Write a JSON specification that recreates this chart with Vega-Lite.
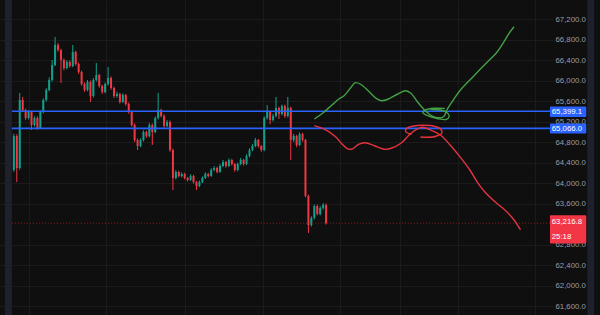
{
  "$schema": "https://vega.github.io/schema/vega-lite/v6.json",
  "width": 553,
  "height": 315,
  "autosize": {"type": "none"},
  "padding": {"left": 0, "top": 0, "right": 47, "bottom": 0},
  "background": "#0f0f0f",
  "config": {"view": {"stroke": null}, "font": "Liberation Sans"},
  "datasets": {
    "one": [{}],
    "candles": [
      {"i":0,"o":64254,"h":64960,"l":64220,"c":64918},
      {"i":1,"o":64918,"h":64950,"l":64020,"c":64293},
      {"i":2,"o":64293,"h":65757,"l":64260,"c":65620},
      {"i":3,"o":65620,"h":65680,"l":65400,"c":65425},
      {"i":4,"o":65425,"h":65450,"l":65230,"c":65269},
      {"i":5,"o":65269,"h":65420,"l":65240,"c":65386},
      {"i":6,"o":65386,"h":65410,"l":65035,"c":65132},
      {"i":7,"o":65132,"h":65300,"l":65100,"c":65269},
      {"i":8,"o":65269,"h":65300,"l":65040,"c":65074},
      {"i":9,"o":65074,"h":65420,"l":65050,"c":65386},
      {"i":10,"o":65386,"h":65650,"l":65360,"c":65620},
      {"i":11,"o":65620,"h":65850,"l":65590,"c":65815},
      {"i":12,"o":65815,"h":66060,"l":65790,"c":66010},
      {"i":13,"o":66010,"h":66400,"l":65980,"c":66303},
      {"i":14,"o":66303,"h":66849,"l":66280,"c":66693},
      {"i":15,"o":66693,"h":66730,"l":66560,"c":66596},
      {"i":16,"o":66596,"h":66620,"l":65952,"c":66400},
      {"i":17,"o":66400,"h":66430,"l":66200,"c":66244},
      {"i":18,"o":66244,"h":66400,"l":66220,"c":66361},
      {"i":19,"o":66361,"h":66390,"l":66250,"c":66283},
      {"i":20,"o":66283,"h":66693,"l":66260,"c":66556},
      {"i":21,"o":66556,"h":66580,"l":66290,"c":66322},
      {"i":22,"o":66322,"h":66350,"l":66130,"c":66166},
      {"i":23,"o":66166,"h":66190,"l":65900,"c":65932},
      {"i":24,"o":65932,"h":65960,"l":65780,"c":65815},
      {"i":25,"o":65815,"h":66010,"l":65790,"c":65971},
      {"i":26,"o":65971,"h":66000,"l":65581,"c":65698},
      {"i":27,"o":65698,"h":66050,"l":65670,"c":66010},
      {"i":28,"o":66010,"h":66342,"l":65980,"c":66108},
      {"i":29,"o":66108,"h":66130,"l":65860,"c":65893},
      {"i":30,"o":65893,"h":65920,"l":65740,"c":65776},
      {"i":31,"o":65776,"h":65960,"l":65750,"c":65932},
      {"i":32,"o":65932,"h":66264,"l":65900,"c":66049},
      {"i":33,"o":66049,"h":66080,"l":65820,"c":65854},
      {"i":34,"o":65854,"h":65880,"l":65660,"c":65698},
      {"i":35,"o":65698,"h":65780,"l":65670,"c":65737},
      {"i":36,"o":65737,"h":65760,"l":65550,"c":65581},
      {"i":37,"o":65581,"h":65750,"l":65560,"c":65717},
      {"i":38,"o":65717,"h":65740,"l":65510,"c":65542},
      {"i":39,"o":65542,"h":65570,"l":65350,"c":65386},
      {"i":40,"o":65386,"h":65410,"l":65100,"c":65132},
      {"i":41,"o":65132,"h":65160,"l":64800,"c":64840},
      {"i":42,"o":64840,"h":64870,"l":64645,"c":64722},
      {"i":43,"o":64722,"h":64870,"l":64700,"c":64840},
      {"i":44,"o":64840,"h":65030,"l":64810,"c":64996},
      {"i":45,"o":64996,"h":65020,"l":64880,"c":64918},
      {"i":46,"o":64918,"h":65170,"l":64890,"c":65132},
      {"i":47,"o":65132,"h":65160,"l":64742,"c":64996},
      {"i":48,"o":64996,"h":65300,"l":64970,"c":65269},
      {"i":49,"o":65269,"h":65757,"l":65240,"c":65425},
      {"i":50,"o":65425,"h":65450,"l":65280,"c":65308},
      {"i":51,"o":65308,"h":65340,"l":65080,"c":65113},
      {"i":52,"o":65113,"h":65230,"l":65090,"c":65191},
      {"i":53,"o":65191,"h":65220,"l":64610,"c":64645},
      {"i":54,"o":64645,"h":64670,"l":63864,"c":64098},
      {"i":55,"o":64098,"h":64250,"l":64070,"c":64215},
      {"i":56,"o":64215,"h":64240,"l":64110,"c":64137},
      {"i":57,"o":64137,"h":64210,"l":64110,"c":64176},
      {"i":58,"o":64176,"h":64200,"l":64070,"c":64098},
      {"i":59,"o":64098,"h":64120,"l":64030,"c":64059},
      {"i":60,"o":64059,"h":64170,"l":64040,"c":64137},
      {"i":61,"o":64137,"h":64160,"l":63990,"c":64020},
      {"i":62,"o":64020,"h":64040,"l":63864,"c":63942},
      {"i":63,"o":63942,"h":64050,"l":63920,"c":64020},
      {"i":64,"o":64020,"h":64130,"l":64000,"c":64098},
      {"i":65,"o":64098,"h":64210,"l":64080,"c":64176},
      {"i":66,"o":64176,"h":64200,"l":64110,"c":64137},
      {"i":67,"o":64137,"h":64290,"l":64120,"c":64254},
      {"i":68,"o":64254,"h":64330,"l":64230,"c":64293},
      {"i":69,"o":64293,"h":64320,"l":64190,"c":64215},
      {"i":70,"o":64215,"h":64370,"l":64200,"c":64332},
      {"i":71,"o":64332,"h":64450,"l":64310,"c":64410},
      {"i":72,"o":64410,"h":64430,"l":64300,"c":64332},
      {"i":73,"o":64332,"h":64480,"l":64310,"c":64449},
      {"i":74,"o":64449,"h":64470,"l":64340,"c":64371},
      {"i":75,"o":64371,"h":64390,"l":64220,"c":64254},
      {"i":76,"o":64254,"h":64400,"l":64230,"c":64371},
      {"i":77,"o":64371,"h":64490,"l":64350,"c":64449},
      {"i":78,"o":64449,"h":64470,"l":64340,"c":64371},
      {"i":79,"o":64371,"h":64560,"l":64350,"c":64527},
      {"i":80,"o":64527,"h":64680,"l":64500,"c":64645},
      {"i":81,"o":64645,"h":64760,"l":64620,"c":64722},
      {"i":82,"o":64722,"h":64880,"l":64700,"c":64840},
      {"i":83,"o":64840,"h":64860,"l":64690,"c":64722},
      {"i":84,"o":64722,"h":64740,"l":64610,"c":64645},
      {"i":85,"o":64645,"h":65300,"l":64620,"c":65269},
      {"i":86,"o":65269,"h":65522,"l":65240,"c":65386},
      {"i":87,"o":65386,"h":65410,"l":65150,"c":65230},
      {"i":88,"o":65230,"h":65350,"l":65200,"c":65308},
      {"i":89,"o":65308,"h":65679,"l":65280,"c":65464},
      {"i":90,"o":65464,"h":65490,"l":65250,"c":65347},
      {"i":91,"o":65347,"h":65530,"l":65320,"c":65503},
      {"i":92,"o":65503,"h":65530,"l":65270,"c":65308},
      {"i":93,"o":65308,"h":65679,"l":65280,"c":65464},
      {"i":94,"o":65464,"h":65490,"l":64450,"c":64840},
      {"i":95,"o":64840,"h":64960,"l":64800,"c":64918},
      {"i":96,"o":64918,"h":64940,"l":64700,"c":64742},
      {"i":97,"o":64742,"h":64990,"l":64720,"c":64957},
      {"i":98,"o":64957,"h":64980,"l":64810,"c":64840},
      {"i":99,"o":64840,"h":64860,"l":63720,"c":63747},
      {"i":100,"o":63747,"h":63770,"l":63025,"c":63181},
      {"i":101,"o":63181,"h":63350,"l":63150,"c":63318},
      {"i":102,"o":63318,"h":63580,"l":63290,"c":63552},
      {"i":103,"o":63552,"h":63580,"l":63370,"c":63396},
      {"i":104,"o":63396,"h":63550,"l":63370,"c":63513},
      {"i":105,"o":63513,"h":63610,"l":63480,"c":63571},
      {"i":106,"o":63571,"h":63600,"l":63190,"c":63216.8}
    ],
    "greenLine": [
      {"k":0,"t":102,"p":65249},{"k":1,"t":104.8,"p":65361},{"k":2,"t":108,"p":65522},
      {"k":3,"t":110.3,"p":65640},{"k":4,"t":112,"p":65698},{"k":5,"t":114.2,"p":65848},
      {"k":6,"t":115.9,"p":65958},{"k":7,"t":117.6,"p":65932},{"k":8,"t":120.3,"p":65801},
      {"k":9,"t":123,"p":65653},{"k":10,"t":124.8,"p":65606},{"k":11,"t":127,"p":65634},
      {"k":12,"t":130.3,"p":65737},{"k":13,"t":133.1,"p":65801},{"k":14,"t":134.8,"p":65751},
      {"k":15,"t":137,"p":65587},{"k":16,"t":139.2,"p":65438},{"k":17,"t":141.4,"p":65327},
      {"k":18,"t":143.7,"p":65275},{"k":19,"t":145.9,"p":65294},{"k":20,"t":147,"p":65425},
      {"k":21,"t":149.2,"p":65620},{"k":22,"t":151.4,"p":65801},{"k":23,"t":155.9,"p":66075},
      {"k":24,"t":160.3,"p":66336},{"k":25,"t":163.7,"p":66531},{"k":26,"t":166.4,"p":66757},
      {"k":27,"t":168.1,"p":66921},{"k":28,"t":169.8,"p":67050}
    ],
    "redLine": [
      {"k":0,"t":102,"p":65119},{"k":1,"t":105.9,"p":65035},{"k":2,"t":109.2,"p":64904},
      {"k":3,"t":111.4,"p":64762},{"k":4,"t":113.7,"p":64658},{"k":5,"t":115.3,"p":64678},
      {"k":6,"t":117,"p":64756},{"k":7,"t":119.2,"p":64787},{"k":8,"t":122.6,"p":64723},
      {"k":9,"t":125.9,"p":64658},{"k":10,"t":128.1,"p":64678},{"k":11,"t":131.4,"p":64775},
      {"k":12,"t":134.2,"p":64937},{"k":13,"t":136.4,"p":65035},{"k":14,"t":138.7,"p":65087},
      {"k":15,"t":141.4,"p":65035},{"k":16,"t":144.8,"p":64937},{"k":17,"t":148.1,"p":64742},
      {"k":18,"t":151.4,"p":64514},{"k":19,"t":154.8,"p":64254},{"k":20,"t":157.6,"p":63995},
      {"k":21,"t":160.3,"p":63800},{"k":22,"t":163.7,"p":63616},{"k":23,"t":167,"p":63460},
      {"k":24,"t":169.8,"p":63279},{"k":25,"t":172,"p":63084}
    ],
    "greenLoop": [
      {"k":0,"t":146.3,"p":65454},{"k":1,"t":142.7,"p":65458},{"k":2,"t":139.7,"p":65425},
      {"k":3,"t":138.8,"p":65376},{"k":4,"t":140.3,"p":65318},{"k":5,"t":143.7,"p":65259},
      {"k":6,"t":146.7,"p":65240},{"k":7,"t":147.8,"p":65298},{"k":8,"t":147,"p":65376},
      {"k":9,"t":144.7,"p":65425},{"k":10,"t":141.7,"p":65435}
    ],
    "redLoop": [
      {"k":0,"t":135,"p":64947},{"k":1,"t":133,"p":65005},{"k":2,"t":133.3,"p":65064},
      {"k":3,"t":135.7,"p":65113},{"k":4,"t":139,"p":65126},{"k":5,"t":142.7,"p":65107},
      {"k":6,"t":145,"p":65044},{"k":7,"t":145.3,"p":64976},{"k":8,"t":143.3,"p":64912},
      {"k":9,"t":140.3,"p":64892},{"k":10,"t":138,"p":64898}
    ]
  },
  "layer": [
    {
      "data": {"name": "candles"},
      "mark": {"type": "rule", "strokeWidth": 1},
      "encoding": {
        "x": {"field": "i", "type": "quantitative", "title": null,
              "scale": {"domain": [-3, 181.33], "nice": false, "zero": false},
              "axis": {"orient": "bottom", "values": [5, 31.3, 58, 84.7, 110.7, 131, 150.7, 177], "tickCount": 30,
                       "labels": false, "ticks": false, "domain": false, "grid": true,
                       "gridColor": "#1b1b1b", "title": null, "zindex": 0}},
        "y": {"field": "l", "type": "quantitative", "title": null,
              "scale": {"domain": [61425, 67571], "nice": false, "zero": false},
              "axis": {"orient": "right", "values": [61600,62000,62400,62800,63600,64000,64400,64800,65200,65600,66000,66400,66800,67200], "tickCount": 30,
                       "format": ",.1f", "labelColor": "#9a9ca3", "labelFontSize": 7.8,
                       "labelPadding": 2, "ticks": false, "domain": false, "grid": true, "labelOverlap": false,
                       "gridColor": "#1b1b1b", "title": null, "zindex": 0, "labelFont": "Liberation Sans"}},
        "y2": {"field": "h"},
        "color": {"condition": {"test": "datum.c >= datum.o", "value": "#13a08a"}, "value": "#f23645"}
      }
    },
    {
      "data": {"name": "candles"},
      "mark": {"type": "bar", "size": 2},
      "encoding": {
        "x": {"field": "i", "type": "quantitative", "title": null},
        "y": {"field": "o", "type": "quantitative", "title": null},
        "y2": {"field": "c"},
        "color": {"condition": {"test": "datum.c >= datum.o", "value": "#13a08a"}, "value": "#f23645"}
      }
    },
    {
      "data": {"name": "one"},
      "mark": {"type": "rect", "color": "#1e212b", "clip": false},
      "encoding": {
        "x": {"datum": -3, "type": "quantitative", "title": null},
        "x2": {"datum": -0.67},
        "y": {"datum": 61425, "type": "quantitative", "title": null},
        "y2": {"datum": 67571}
      }
    },
    {
      "data": {"name": "one"},
      "mark": {"type": "rect", "color": "#1e212b", "clip": false},
      "encoding": {
        "x": {"datum": 194.67, "type": "quantitative", "title": null},
        "x2": {"datum": 197},
        "y": {"datum": 61425, "type": "quantitative", "title": null},
        "y2": {"datum": 67571}
      }
    },
    {
      "data": {"name": "one"},
      "mark": {"type": "rule", "color": "#8c1c24", "strokeWidth": 1, "strokeDash": [1, 2], "clip": false},
      "encoding": {
        "x": {"datum": -0.67, "type": "quantitative", "title": null},
        "x2": {"datum": 182},
        "y": {"datum": 63216.8, "type": "quantitative", "title": null}
      }
    },
    {
      "data": {"name": "one"},
      "mark": {"type": "rule", "color": "#2962ff", "strokeWidth": 1.6, "clip": false},
      "encoding": {
        "x": {"datum": -0.67, "type": "quantitative", "title": null},
        "x2": {"datum": 182},
        "y": {"datum": 65399.1, "type": "quantitative", "title": null}
      }
    },
    {
      "data": {"name": "one"},
      "mark": {"type": "rule", "color": "#2962ff", "strokeWidth": 1.6, "clip": false},
      "encoding": {
        "x": {"datum": -0.67, "type": "quantitative", "title": null},
        "x2": {"datum": 182},
        "y": {"datum": 65066, "type": "quantitative", "title": null}
      }
    },
    {
      "data": {"name": "greenLine"},
      "mark": {"type": "line", "color": "#43a047", "strokeWidth": 1.4, "interpolate": "catmull-rom"},
      "encoding": {
        "x": {"field": "t", "type": "quantitative", "title": null},
        "y": {"field": "p", "type": "quantitative", "title": null},
        "order": {"field": "k"}
      }
    },
    {
      "data": {"name": "greenLoop"},
      "mark": {"type": "line", "color": "#43a047", "strokeWidth": 1.4, "interpolate": "catmull-rom"},
      "encoding": {
        "x": {"field": "t", "type": "quantitative", "title": null},
        "y": {"field": "p", "type": "quantitative", "title": null},
        "order": {"field": "k"}
      }
    },
    {
      "data": {"name": "redLine"},
      "mark": {"type": "line", "color": "#e5333f", "strokeWidth": 1.4, "interpolate": "catmull-rom"},
      "encoding": {
        "x": {"field": "t", "type": "quantitative", "title": null},
        "y": {"field": "p", "type": "quantitative", "title": null},
        "order": {"field": "k"}
      }
    },
    {
      "data": {"name": "redLoop"},
      "mark": {"type": "line", "color": "#e5333f", "strokeWidth": 1.4, "interpolate": "catmull-rom"},
      "encoding": {
        "x": {"field": "t", "type": "quantitative", "title": null},
        "y": {"field": "p", "type": "quantitative", "title": null},
        "order": {"field": "k"}
      }
    },
    {
      "data": {"name": "one"},
      "mark": {"type": "rect", "color": "#2962ff", "clip": false, "cornerRadius": 1},
      "encoding": {
        "x": {"datum": 182, "type": "quantitative", "title": null},
        "x2": {"datum": 194.33},
        "y": {"datum": 65288, "type": "quantitative", "title": null},
        "y2": {"datum": 65493}
      }
    },
    {
      "data": {"name": "one"},
      "mark": {"type": "rect", "color": "#2962ff", "clip": false, "cornerRadius": 1},
      "encoding": {
        "x": {"datum": 182, "type": "quantitative", "title": null},
        "x2": {"datum": 194.33},
        "y": {"datum": 64965, "type": "quantitative", "title": null},
        "y2": {"datum": 65160}
      }
    },
    {
      "data": {"name": "one"},
      "mark": {"type": "rect", "color": "#f23645", "clip": false, "cornerRadius": 1},
      "encoding": {
        "x": {"datum": 182, "type": "quantitative", "title": null},
        "x2": {"datum": 194.33},
        "y": {"datum": 62820, "type": "quantitative", "title": null},
        "y2": {"datum": 63370}
      }
    },
    {
      "data": {"name": "one"},
      "mark": {"type": "text", "color": "#ffffff", "align": "left", "baseline": "middle", "fontSize": 7.8, "clip": false},
      "encoding": {
        "x": {"datum": 182.6, "type": "quantitative", "title": null},
        "y": {"datum": 65395, "type": "quantitative", "title": null},
        "text": {"value": "65,399.1"}
      }
    },
    {
      "data": {"name": "one"},
      "mark": {"type": "text", "color": "#ffffff", "align": "left", "baseline": "middle", "fontSize": 7.8, "clip": false},
      "encoding": {
        "x": {"datum": 182.6, "type": "quantitative", "title": null},
        "y": {"datum": 65045, "type": "quantitative", "title": null},
        "text": {"value": "65,066.0"}
      }
    },
    {
      "data": {"name": "one"},
      "mark": {"type": "text", "color": "#ffffff", "align": "left", "baseline": "middle", "fontSize": 7.8, "clip": false},
      "encoding": {
        "x": {"datum": 182.6, "type": "quantitative", "title": null},
        "y": {"datum": 63245, "type": "quantitative", "title": null},
        "text": {"value": "63,216.8"}
      }
    },
    {
      "data": {"name": "one"},
      "mark": {"type": "text", "color": "#ffffff", "align": "left", "baseline": "middle", "fontSize": 7.8, "clip": false},
      "encoding": {
        "x": {"datum": 182.6, "type": "quantitative", "title": null},
        "y": {"datum": 62945, "type": "quantitative", "title": null},
        "text": {"value": "25:18"}
      }
    }
  ]
}
